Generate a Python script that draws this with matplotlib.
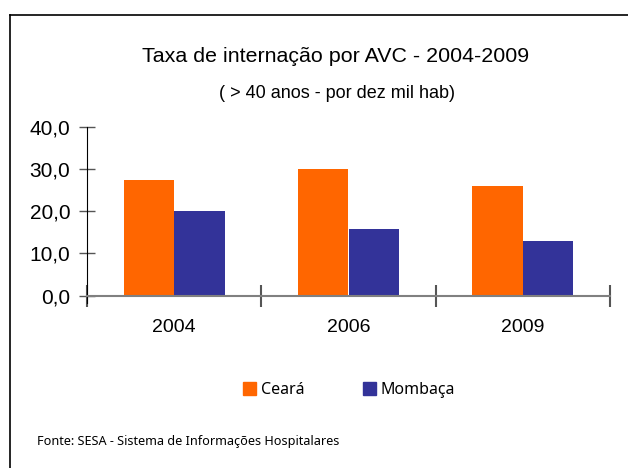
import numpy as np
import matplotlib
matplotlib.use("Agg")
import matplotlib.pyplot as plt
from matplotlib.lines import Line2D
from matplotlib.patches import Patch

anos = ["2004", "2006", "2009"]
ceara = [27.4, 30.1, 26.1]
mombaca = [20.2, 15.9, 13.0]
yticks = [0, 10, 20, 30, 40]

laranja = "#FF6600"
azul = "#333399"

fig = plt.figure(figsize=(6.28, 4.68), dpi=100)
ax = fig.add_axes([87 / 628, 1 - 295.5 / 468, 523 / 628, 168.2 / 468])

x = np.arange(len(anos))
w = 0.29
ax.bar(x - w / 2, ceara, w, color=laranja, zorder=2)
ax.bar(x + w / 2, mombaca, w, color=azul, zorder=2)

ax.set_xlim(-0.5, len(anos) - 0.5)
ax.set_ylim(0, 40)

for s in ["top", "right"]:
    ax.spines[s].set_visible(False)
ax.spines["left"].set_color("black")
ax.spines["left"].set_bounds(-1.7, 40)
ax.spines["bottom"].set_color("#808080")
ax.spines["bottom"].set_linewidth(1.5)
ax.spines["bottom"].set_zorder(3)

ax.set_yticks(yticks)
ax.set_yticklabels([f"{v:.1f}".replace(".", ",") for v in yticks],
                   family="Liberation Sans", fontsize=15)
ax.tick_params(axis="y", direction="inout", length=12, width=1, color="#555555", pad=6)

# marcas do eixo x nas divisas das categorias, rótulos no centro
ax.set_xticks(np.arange(len(anos) + 1) - 0.5)
ax.set_xticklabels([])
ax.tick_params(axis="x", direction="inout", length=16, width=1.5, color="#555555")
for i, a in enumerate(anos):
    ax.text(i, -5.6, a, ha="center", va="top", family="Liberation Sans", fontsize=14)

fig.text(336 / 628, 1 - 57 / 468, "Taxa de internação por AVC - 2004-2009",
         ha="center", va="center", family="Liberation Sans", fontsize=15.4)
fig.text(337 / 628, 1 - 93 / 468, "( > 40 anos - por dez mil hab)",
         ha="center", va="center", family="Liberation Sans", fontsize=13)

handles = [Patch(color=laranja, label="Ceará"), Patch(color=azul, label="Mombaça")]
fig.legend(handles=handles, loc="center", bbox_to_anchor=(349 / 628, 1 - 390 / 468),
           ncol=2, frameon=False, prop={"family": "Noto Sans", "size": 11.5},
           handlelength=0.8, handleheight=0.8, handletextpad=0.3, columnspacing=3.7)

fig.text(37 / 628, 1 - 441 / 468, "Fonte: SESA - Sistema de Informações Hospitalares",
         ha="left", va="center", family="Noto Sans", fontsize=9.1)

# moldura
fig.add_artist(Line2D([10 / 628, 10 / 628], [0, 1 - 15 / 468], color="black", lw=1.2,
                      transform=fig.transFigure))
fig.add_artist(Line2D([10 / 628, 1], [1 - 15 / 468, 1 - 15 / 468], color="black", lw=1.2,
                      transform=fig.transFigure))

fig.savefig("out.png", dpi=100)
